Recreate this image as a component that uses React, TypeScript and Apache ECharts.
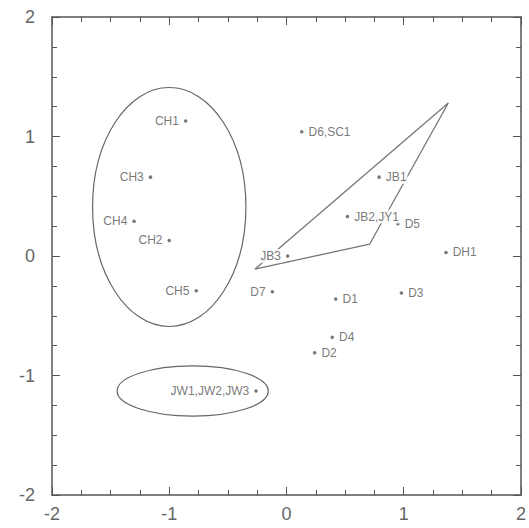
import React, { useEffect, useRef } from "react";
import * as echarts from "echarts";

const pointNames = ["CH1", "CH3", "CH4", "CH2", "CH5", "D7", "JB3", "JW1,JW2,JW3", "D6,SC1", "JB1", "JB2,JY1", "D5", "DH1", "D1", "D3", "D4", "D2"];
const pointX = [-0.86, -1.16, -1.3, -1.0, -0.77, -0.12, 0.01, -0.26, 0.13, 0.79, 0.52, 0.95, 1.36, 0.42, 0.98, 0.39, 0.24];
const pointY = [1.13, 0.66, 0.29, 0.13, -0.29, -0.3, 0.0, -1.13, 1.04, 0.66, 0.33, 0.27, 0.03, -0.36, -0.31, -0.68, -0.81];
const leftLabeled = ["CH1", "CH3", "CH4", "CH2", "CH5", "D7", "JB3", "JW1,JW2,JW3"];

const ellipseCx = [-1.0, -0.8];
const ellipseCy = [0.41, -1.13];
const ellipseRx = [0.654, 0.645];
const ellipseRy = [1.0, 0.21];

const polyX = [-0.27, 0.71, 1.38, -0.27];
const polyY = [-0.11, 0.1, 1.28, -0.11];

const axisMin = -2;
const axisMax = 2;
const axisInterval = 1;

export default function App() {
  const ref = useRef<HTMLDivElement>(null);
  useEffect(() => {
    if (!ref.current) return;
    const chart = echarts.init(ref.current, null, { renderer: "svg" });
    const axisColor = "#555";
    const baseAxis = (extra: any) => ({
      type: "value",
      min: axisMin,
      max: axisMax,
      interval: axisInterval,
      splitLine: { show: false },
      axisLine: { show: true, onZero: false, lineStyle: { color: axisColor, width: 1.5 } },
      axisTick: { show: true, inside: true, length: 8, lineStyle: { color: axisColor, width: 1 } },
      minorTick: { show: true, splitNumber: 4, length: 5, lineStyle: { color: axisColor, width: 1 } },
      ...extra,
    });
    const labelStyle = {
      show: true,
      color: "#666",
      fontSize: 18,
      fontFamily: "Liberation Sans, Arial, sans-serif",
    };
    const scatterData = pointNames.map((n, i) => ({
      value: [pointX[i], pointY[i]],
      name: n,
      label: {
        show: true,
        formatter: n,
        position: leftLabeled.includes(n) ? "left" : "right",
        distance: 4,
        color: "#555",
        fontSize: 12,
        fontFamily: "Liberation Sans, Arial, sans-serif",
        backgroundColor: "#fff",
        padding: [1, 1],
      },
    }));
    chart.setOption({
      animation: false,
      backgroundColor: "#fff",
      grid: { left: 52, right: 6, top: 17, bottom: 33, containLabel: false },
      xAxis: [
        baseAxis({ position: "bottom", axisLabel: { ...labelStyle, margin: 10 } }),
        baseAxis({ position: "top", axisLabel: { show: false } }),
      ],
      yAxis: [
        baseAxis({ position: "left", axisLabel: { ...labelStyle, margin: 17 } }),
        baseAxis({ position: "right", axisLabel: { show: false } }),
      ],
      series: [
        {
          type: "custom",
          xAxisIndex: 0,
          yAxisIndex: 0,
          z: 1,
          silent: true,
          renderItem: (params: any, api: any) => {
            const c = api.coord([api.value(0), api.value(1)]);
            const s = api.size([api.value(2), api.value(3)]);
            return {
              type: "ellipse",
              shape: { cx: c[0], cy: c[1], rx: s[0], ry: s[1] },
              style: { fill: "none", stroke: "#666", lineWidth: 1.2 },
            };
          },
          data: ellipseCx.map((cx, i) => [cx, ellipseCy[i], ellipseRx[i], ellipseRy[i]]),
        },
        {
          type: "line",
          xAxisIndex: 0,
          yAxisIndex: 0,
          z: 1,
          symbol: "none",
          silent: true,
          lineStyle: { color: "#777", width: 1.3 },
          data: polyX.map((x, i) => [x, polyY[i]]),
        },
        {
          type: "scatter",
          xAxisIndex: 0,
          yAxisIndex: 0,
          z: 5,
          symbolSize: 3.5,
          itemStyle: { color: "#555" },
          data: scatterData,
        },
      ],
    });
    return () => chart.dispose();
  }, []);
  return (
    <div
      ref={ref}
      style={{ position: "absolute", left: 0, top: 0, width: 529, height: 528 }}
    />
  );
}
